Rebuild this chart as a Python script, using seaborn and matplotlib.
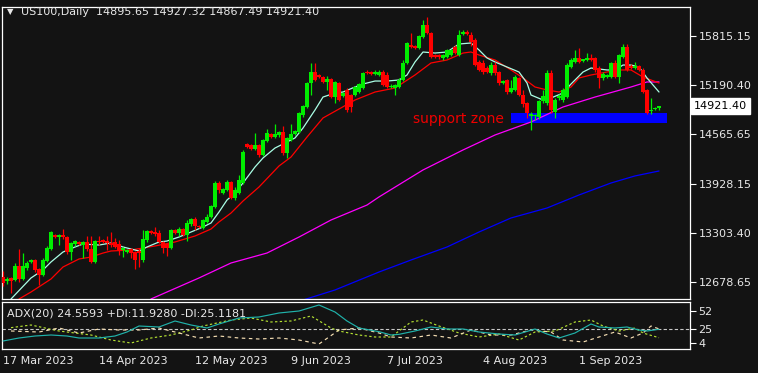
import numpy as np
import pandas as pd
import matplotlib
matplotlib.use("Agg")
import matplotlib.pyplot as plt
import matplotlib.transforms as mtransforms
from matplotlib.patches import Rectangle
import seaborn as sns

# ---------------- data ----------------
symbol = "US100,Daily"
opens = [12742, 12691, 12730, 12704, 12883, 12717, 12857, 12934, 12959, 12844,
         12768, 12946, 13099, 13278, 13252, 13278, 13252, 13061, 13163, 13189,
         13150, 13189, 13099, 12934, 13201, 13214, 13201, 13176, 13189, 13163,
         13087, 13061, 13099, 13061, 13074, 12959, 13214, 13329, 13316, 13303,
         13189, 13163, 13112, 13342, 13303, 13354, 13278, 13418, 13482, 13393,
         13367, 13444, 13507, 13635, 13941, 13814, 13852, 13954, 13750, 13814,
         13941, 14438, 14425, 14374, 14425, 14298, 14476, 14566, 14527, 14553,
         14591, 14323, 14489, 14566, 14591, 14808, 14910, 15216, 15356, 15318,
         15292, 15229, 15267, 15037, 15216, 15050, 15127, 15063, 15063, 15101,
         15152, 15356, 15356, 15331, 15318, 15356, 15318, 15165, 15152, 15165,
         15254, 15471, 15700, 15688, 15662, 15802, 15955, 15853, 15573, 15573,
         15535, 15547, 15573, 15675, 15573, 15841, 15866, 15828, 15764, 15484,
         15471, 15407, 15343, 15445, 15356, 15216, 15254, 15101, 15127, 15280,
         15063, 14961, 14795, 14795, 14782, 14986, 14961, 15343, 14846, 15025,
         14999, 15037, 15420, 15484, 15535, 15496, 15509, 15535, 15535, 15407,
         15280, 15292, 15292, 15471, 15292, 15547, 15675, 15433, 15407, 15433,
         15382, 15127, 14859, 14884, 14895.65]
highs = [12819, 12742, 12742, 12921, 13099, 13048, 12946, 12972, 12972, 12857,
         12985, 13138, 13329, 13291, 13291, 13354, 13265, 13189, 13214, 13201,
         13201, 13265, 13265, 13214, 13265, 13227, 13265, 13316, 13240, 13214,
         13125, 13099, 13112, 13074, 13112, 13342, 13342, 13342, 13380, 13342,
         13201, 13176, 13354, 13354, 13380, 13367, 13469, 13495, 13507, 13405,
         13482, 13546, 13660, 13966, 13966, 13877, 13979, 13966, 13890, 14043,
         14362, 14451, 14438, 14578, 14438, 14502, 14629, 14578, 14693, 14604,
         14668, 14527, 14693, 14617, 14846, 14935, 15229, 15471, 15471, 15331,
         15305, 15305, 15280, 15241, 15229, 15101, 15152, 15076, 15178, 15216,
         15356, 15382, 15369, 15382, 15382, 15382, 15356, 15203, 15203, 15280,
         15509, 15739, 15853, 15700, 15828, 16019, 16057, 15866, 15586, 15586,
         15586, 15649, 15649, 15700, 15892, 15892, 15892, 15866, 15790, 15509,
         15509, 15433, 15484, 15484, 15369, 15254, 15267, 15254, 15318, 15292,
         15127, 14974, 14846, 14821, 14999, 15127, 15382, 15382, 15025, 15076,
         15152, 15471, 15535, 15637, 15662, 15522, 15598, 15586, 15547, 15433,
         15356, 15331, 15484, 15509, 15586, 15713, 15713, 15458, 15484, 15445,
         15407, 15139, 15025, 14910, 14927.32]
lows = [12627, 12653, 12538, 12691, 12679, 12704, 12832, 12921, 12806, 12640,
        12755, 12934, 13087, 13240, 13150, 13227, 13036, 12959, 13138, 13150,
        12985, 13074, 12921, 12921, 13150, 13176, 13087, 13125, 13112, 13023,
        12997, 13048, 12985, 12844, 12870, 12934, 13189, 13291, 13265, 13176,
        13048, 13010, 13099, 13291, 13265, 13265, 13201, 13393, 13342, 13367,
        13354, 13431, 13495, 13622, 13814, 13801, 13839, 13737, 13724, 13801,
        13928, 14387, 14362, 14362, 14272, 14285, 14464, 14515, 14515, 14527,
        14298, 14260, 14476, 14553, 14578, 14782, 14897, 15063, 15241, 15280,
        15216, 15127, 15025, 14961, 14986, 15037, 14846, 14846, 15050, 15088,
        15139, 15331, 15318, 15318, 15305, 15178, 15152, 15152, 15063, 15152,
        15241, 15458, 15662, 15649, 15649, 15790, 15841, 15535, 15535, 15522,
        15509, 15535, 15560, 15586, 15560, 15828, 15828, 15688, 15433, 15369,
        15331, 15343, 15318, 15318, 15190, 15203, 15076, 15088, 15114, 15050,
        14910, 14770, 14617, 14744, 14757, 14961, 14935, 14833, 14770, 14999,
        14974, 15025, 15407, 15471, 15471, 15484, 15496, 15496, 15356, 15152,
        15254, 15280, 15280, 15280, 15216, 15535, 15369, 15394, 15394, 15369,
        15088, 14821, 14821, 14872, 14867.49]
closes = [12666, 12717, 12691, 12883, 12717, 12883, 12921, 12959, 12832, 12768,
          12959, 13112, 13316, 13252, 13278, 13252, 13061, 13176, 13201, 13163,
          13189, 13099, 12934, 13201, 13189, 13189, 13176, 13150, 13125, 13087,
          13112, 13087, 13048, 12959, 13048, 13227, 13329, 13303, 13291, 13189,
          13112, 13112, 13342, 13303, 13354, 13278, 13431, 13482, 13393, 13380,
          13469, 13507, 13648, 13941, 13852, 13865, 13954, 13750, 13852, 13979,
          14336, 14400, 14374, 14425, 14298, 14489, 14578, 14527, 14566, 14591,
          14323, 14515, 14566, 14604, 14833, 14923, 15216, 15356, 15254, 15292,
          15229, 15267, 15037, 15229, 14999, 15088, 14872, 14910, 15165, 15203,
          15343, 15343, 15331, 15356, 15356, 15190, 15165, 15178, 15190, 15254,
          15471, 15726, 15675, 15662, 15815, 15955, 15853, 15547, 15547, 15547,
          15573, 15637, 15637, 15598, 15828, 15866, 15841, 15739, 15445, 15382,
          15356, 15356, 15445, 15343, 15216, 15241, 15101, 15152, 15292, 15063,
          14948, 14833, 14821, 14808, 14986, 15050, 15343, 14872, 14999, 15050,
          15127, 15445, 15509, 15535, 15484, 15522, 15535, 15509, 15382, 15280,
          15331, 15318, 15471, 15292, 15573, 15675, 15382, 15407, 15433, 15382,
          15101, 14833, 14872, 14897, 14921.40]

# moving averages (read at sampled bars)
fast_idx = [2, 7, 10, 12, 15, 18, 20, 24, 27, 30, 34, 36, 39, 41, 44, 47, 50, 52, 54, 56,
            58, 60, 63, 65, 68, 70, 73, 75, 78, 80, 83, 85, 88, 90, 93, 96, 99, 101, 103, 105,
            108, 111, 114, 117, 119, 121, 123, 126, 129, 131, 132, 135, 137, 140, 142, 145, 147,
            151, 153, 155, 157, 159, 161, 164]
fast_val = [12462, 12730, 12832, 12934, 13061, 13125, 13163, 13150, 13176, 13125,
            13074, 13125, 13189, 13201, 13252, 13316, 13380, 13431, 13571, 13724,
            13814, 13941, 14145, 14260, 14387, 14438, 14515, 14642, 14872, 15037,
            15088, 15101, 15165, 15203, 15241, 15241, 15254, 15318, 15484, 15611,
            15598, 15611, 15713, 15726, 15637, 15535, 15484, 15420, 15356, 15216,
            15063, 14999, 15025, 15088, 15203, 15356, 15407, 15382, 15382, 15445,
            15445, 15420, 15280, 15101]
red_idx = [4, 7, 12, 15, 19, 22, 25, 27, 32, 35, 38, 43, 48, 52, 54, 57, 60, 64, 69, 72,
           76, 80, 84, 88, 93, 98, 103, 107, 111, 115, 117, 119, 123, 127, 130, 133, 136, 139,
           142, 144, 147, 151, 154, 157, 160, 162, 164]
red_val = [12462, 12551, 12717, 12870, 12972, 12997, 13048, 13074, 13087, 13112,
           13138, 13189, 13265, 13354, 13444, 13558, 13711, 13890, 14158, 14272,
           14527, 14770, 14884, 14999, 15101, 15152, 15318, 15471, 15509, 15598,
           15611, 15573, 15509, 15382, 15280, 15165, 15127, 15101, 15165, 15280,
           15318, 15356, 15382, 15382, 15292, 15254, 15216]
mag_idx = [37, 49, 57, 66, 74, 82, 91, 94, 105, 115, 123, 132, 140, 148, 157, 161, 164]
mag_val = [12462, 12730, 12921, 13048, 13252, 13469, 13660, 13763, 14107, 14362,
           14553, 14719, 14910, 15037, 15165, 15229, 15229]
blue_idx = [75, 83, 94, 102, 111, 119, 127, 136, 144, 152, 158, 164]
blue_val = [12449, 12577, 12806, 12959, 13125, 13316, 13495, 13622, 13788, 13941, 14031, 14094]

# ADX(20) panel
adx_idx = [0, 4, 8, 12, 16, 19, 24, 28, 31, 34, 39, 43, 47, 51, 54, 59, 64, 69, 74, 79,
           83, 86, 89, 94, 97, 99, 103, 107, 111, 115, 119, 124, 128, 133, 136, 139, 143, 147,
           149, 153, 156, 159, 161, 164]
adx_val = [7, 11.5, 14.5, 16, 14.5, 11.5, 11.5, 14.5, 20.5, 29.5, 28, 37, 31, 26.5, 32.5,
           41.5, 43, 49, 52, 61, 50.5, 37, 26.5, 21, 16, 17, 22, 28, 25, 25, 20.5, 17.5, 16,
           25, 17.5, 11.5, 19, 32.5, 28, 26.5, 28, 23.5, 22, 24.5593]
pdi_idx = [2, 7, 14, 22, 27, 32, 37, 42, 47, 50, 57, 62, 67, 72, 77, 82, 84, 89, 93, 97,
           102, 105, 109, 114, 119, 124, 129, 133, 138, 143, 147, 150, 154, 158, 160, 164]
pdi_val = [27, 31, 22, 16, 8.5, 4, 11.5, 16, 23.5, 29.5, 38.5, 41.5, 35.5, 37, 44.5, 26.5,
           22, 16, 13, 13, 35.5, 38.5, 29.5, 19, 13, 17.5, 8.5, 20.5, 22, 35.5, 38.5, 29.5,
           22, 26.5, 19, 11.9280]
mdi_idx = [2, 9, 14, 19, 24, 29, 34, 39, 44, 49, 54, 59, 64, 69, 74, 79, 84, 89, 94, 97,
           102, 107, 112, 117, 122, 127, 132, 137, 140, 145, 149, 153, 157, 160, 162, 164]
mdi_val = [22, 20.5, 26.5, 19, 25, 23.5, 23.5, 26.5, 19, 11.5, 14.5, 11.5, 10, 11.5, 8.5,
           2.5, 23.5, 26.5, 19, 13, 11.5, 16, 11.5, 23.5, 16, 16, 23.5, 20.5, 8.5, 5.5, 13,
           20.5, 11.5, 19, 29.5, 25.1181]
adx_level = 25

date_ticks = [0, 24, 48, 72, 96, 120, 144]
date_labels = ["17 Mar 2023", "14 Apr 2023", "12 May 2023", "9 Jun 2023",
               "7 Jul 2023", "4 Aug 2023", "1 Sep 2023"]
price_ticks = [15815.15, 15190.40, 14565.65, 13928.15, 13303.40, 12678.65]
adx_ticks = [52, 25, 4]
zone_low, zone_high = 14706, 14833
zone_start, zone_end = 127, 166
zone_label = "support zone"

# ---------------- styling ----------------
BG = "#131313"
UP = "#00ee00"
DN = "#ff0000"
TXT = "#e8e8e8"
sns.set_theme(style="dark", rc={"axes.facecolor": BG, "figure.facecolor": BG,
                                "axes.edgecolor": "white", "axes.grid": False})
plt.rcParams["font.family"] = ["DejaVu Sans"]

W, H = 758, 373
fig = plt.figure(figsize=(W / 100, H / 100), dpi=100)
fig.patch.set_facecolor(BG)


def px_axes(l, t, r, b):
    return fig.add_axes([l / W, 1 - b / H, (r - l) / W, (b - t) / H])


ax = px_axes(2, 7, 690, 299)
axa = px_axes(2, 302, 690, 349)
for a in (ax, axa):
    a.set_facecolor(BG)
    for s in a.spines.values():
        s.set_color("white")
        s.set_linewidth(0.9)
    a.set_xlim(-0.25, 171.75)

ax.set_ylim(12461.9, 16184.9)
axa.set_ylim(-5, 65.5)

# support zone (background object)
ax.add_patch(Rectangle((zone_start, zone_low), zone_end - zone_start, zone_high - zone_low,
                       facecolor="#0000ff", edgecolor="none", zorder=1))
ax.text(102.5, (zone_low + zone_high) / 2 - 8, zone_label, color="#ee0000",
        fontsize=10, ha="left", va="center", zorder=6)

# moving averages
ma_specs = [(mag_idx, mag_val, "#ff00ff"), (blue_idx, blue_val, "#0000ff"),
            (red_idx, red_val, "#ff0000"), (fast_idx, fast_val, "#aaffe6")]
for xs, ys, col in ma_specs:
    df = pd.DataFrame({"bar": xs, "price": ys})
    sns.lineplot(data=df, x="bar", y="price", ax=ax, color=col, linewidth=0.9,
                 estimator=None, sort=True, legend=False, zorder=2)

# candles
o = np.array(opens, dtype=float)
h = np.array(highs, dtype=float)
l = np.array(lows, dtype=float)
c = np.array(closes, dtype=float)
idx = np.arange(len(o))
up = c >= o
cols = np.where(up, UP, DN)
lo_body = np.minimum(o, c)
body_h = np.maximum(np.abs(c - o), 12.75)
ax.vlines(idx, np.minimum(l, lo_body), np.maximum(h, lo_body + body_h), colors=cols,
          linewidth=0.9, zorder=3)
ax.bar(idx, body_h, bottom=lo_body, width=0.78, color=cols, linewidth=0, zorder=4)

# axes ticks
ax.set_xlabel("")
ax.set_ylabel("")
ax.set_xticks([])
ax.yaxis.tick_right()
ax.set_yticks(price_ticks)
ax.set_yticklabels([f"{v:.2f}" for v in price_ticks])
ax.tick_params(axis="y", colors="white", labelcolor=TXT, length=4, width=0.8,
               pad=2, labelsize=8, direction="out")

# last price label
trans = mtransforms.blended_transform_factory(ax.transAxes, ax.transData)
ax.text(1.0 + 4 / 688, closes[-1], f"{closes[-1]:.2f}", transform=trans, ha="left",
        va="center", color="black", fontsize=8, zorder=10, clip_on=False,
        bbox=dict(boxstyle="square,pad=0.25", facecolor="white", edgecolor="white"))

# title
fig.text(7 / W, 1 - 12 / H, "\u25BC", color=TXT, fontsize=6, va="center", ha="left")
fig.text(21 / W, 1 - 12 / H,
         f"{symbol}  {opens[-1]:.2f} {highs[-1]:.2f} {lows[-1]:.2f} {closes[-1]:.2f}",
         color=TXT, fontsize=8, va="center", ha="left")

# ADX panel
axa.axhline(adx_level, color="#c8c8c8", linewidth=0.8, dashes=(3, 2), zorder=1)
for xs, ys, col, dash in [(pdi_idx, pdi_val, "#b4e032", (2, 2)),
                          (mdi_idx, mdi_val, "#f5deb3", (3, 3)),
                          (adx_idx, adx_val, "#20b2aa", None)]:
    df = pd.DataFrame({"bar": xs, "val": ys})
    sns.lineplot(data=df, x="bar", y="val", ax=axa, color=col, linewidth=0.85,
                 estimator=None, sort=True, legend=False, zorder=3)
    if dash is not None:
        axa.lines[-1].set_dashes(dash)
axa.set_xlabel("")
axa.set_ylabel("")
axa.yaxis.tick_right()
axa.set_yticks(adx_ticks)
axa.set_yticklabels([str(v) for v in adx_ticks])
axa.tick_params(axis="y", colors="white", labelcolor=TXT, length=4, width=0.8,
                pad=2, labelsize=8, direction="out")
axa.set_xticks(date_ticks)
axa.set_xticklabels(date_labels)
axa.tick_params(axis="x", colors="white", labelcolor=TXT, length=4, width=0.8,
                pad=1, labelsize=8, direction="out")
for lab in axa.get_xticklabels():
    lab.set_ha("left")

fig.text(7 / W, 1 - 313 / H,
         f"ADX(20) {adx_val[-1]:.4f} +DI:{pdi_val[-1]:.4f} -DI:{mdi_val[-1]:.4f}",
         color=TXT, fontsize=8, va="center", ha="left")

fig.savefig("out.png", dpi=100, facecolor=BG)
